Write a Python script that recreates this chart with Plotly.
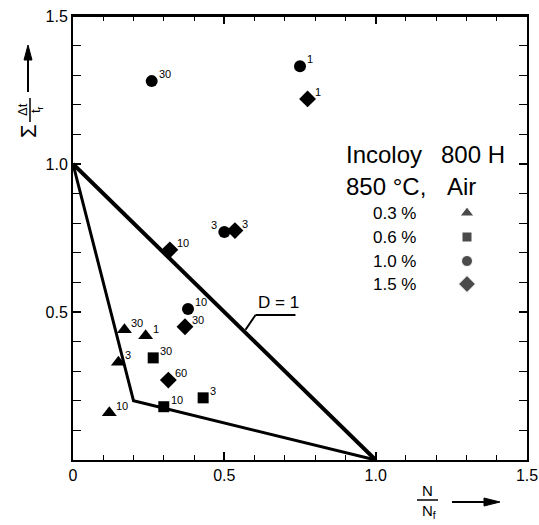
import plotly.graph_objects as go

# ---------------- data ----------------
tri_x = [0.17, 0.24, 0.15, 0.12]
tri_y = [0.44, 0.42, 0.33, 0.16]
tri_lab = ["30", "1", "3", "10"]

sq_x = [0.265, 0.30, 0.43]
sq_y = [0.345, 0.18, 0.21]
sq_lab = ["30", "10", "3"]

ci_x = [0.38, 0.26, 0.75, 0.50]
ci_y = [0.51, 1.28, 1.33, 0.77]
ci_lab = ["10", "30", "1", "3"]

di_x = [0.37, 0.315, 0.32, 0.775, 0.535]
di_y = [0.45, 0.27, 0.71, 1.22, 0.775]
di_lab = ["30", "60", "10", "1", "3"]

# damage lines
d1_x = [0.0, 1.0]
d1_y = [1.0, 0.0]
inner_x = [0.0, 0.2, 1.0]
inner_y = [1.0, 0.2, 0.0]

legend_labels = ["0.3 %", "0.6 %", "1.0 %", "1.5 %"]
legend_symbols = ["triangle-up", "square", "circle", "diamond"]
x_tickvals = [0, 0.5, 1.0, 1.5]
x_ticktext = ["0", "0.5", "1.0", "1.5"]
y_tickvals = [0.5, 1.0, 1.5]
y_ticktext = ["0.5", "1.0", "1.5"]
minor_vals = [i / 10 for i in range(16)]

FONT = "Liberation Sans, Arial, sans-serif"
BLACK = "#000000"

# layout geometry (page pixels; body margin removed in post_script)
W, H = 539, 525
PL, PR, PT, PB = 73, 527, 16, 460          # plot box
L, T, R, B = PL, PT, W - PR, H - PB
PW, PH = PR - PL, PB - PT
XMAX, YMAX = 1.5, 1.5


def px(xp):
    return (xp - PL) / PW


def py(yp):
    return (PB - yp) / PH


fig = go.Figure()

fig.add_trace(go.Scatter(x=d1_x, y=d1_y, mode="lines",
                         line=dict(color=BLACK, width=4), showlegend=False,
                         hoverinfo="skip"))
fig.add_trace(go.Scatter(x=inner_x, y=inner_y, mode="lines",
                         line=dict(color=BLACK, width=3), showlegend=False,
                         hoverinfo="skip"))

ann = []


def series(xs, ys, labs, symbol, size, sides):
    fig.add_trace(go.Scatter(
        x=xs, y=ys, mode="markers",
        marker=dict(symbol=symbol, size=size, color=BLACK, line=dict(width=0)),
        showlegend=False, cliponaxis=False))
    for xv, yv, lab, side in zip(xs, ys, labs, sides):
        ann.append(dict(text=lab, x=xv, y=yv, xref="x", yref="y",
                        xanchor="left" if side == "r" else "right",
                        yanchor="bottom",
                        xshift=5 if side == "r" else -5, yshift=-1,
                        showarrow=False,
                        font=dict(family=FONT, size=11, color=BLACK)))


series(tri_x, tri_y, tri_lab, "triangle-up", 13, "rrrr")
series(sq_x, sq_y, sq_lab, "square", 11, "rrr")
series(ci_x, ci_y, ci_lab, "circle", 12, "rrrl")
series(di_x, di_y, di_lab, "diamond", 13, "rrrrr")

# legend keys (positions are layout constants converted to axis units);
# drawn on the top x axis so that axis is rendered
leg_y_px = [213, 237, 261, 284]
fig.add_trace(go.Scatter(
    x=[px(467) * XMAX] * 4, y=[py(v) * YMAX for v in leg_y_px], mode="markers",
    marker=dict(symbol=legend_symbols, size=[12, 10, 11, 13], color=BLACK),
    xaxis="x2", yaxis="y", showlegend=False, hoverinfo="skip"))

axis_common = dict(showline=True, linecolor=BLACK, linewidth=2,
                   ticks="inside", ticklen=8, tickwidth=1.5, tickcolor=BLACK,
                   showgrid=False, zeroline=False, automargin=False,
                   tickfont=dict(family=FONT, size=16, color=BLACK),
                   minor=dict(tickmode="array", tickvals=minor_vals,
                              ticks="inside", ticklen=5,
                              tickwidth=1.2, tickcolor=BLACK, showgrid=False))

fig.update_layout(
    width=W, height=H,
    margin=dict(l=L, r=R, t=T, b=B, autoexpand=False),
    paper_bgcolor="white", plot_bgcolor="white",
    xaxis=dict(range=[0, XMAX], tickmode="array", tickvals=x_tickvals,
               ticktext=x_ticktext, mirror=False, **axis_common),
    xaxis2=dict(range=[0, XMAX], tickmode="array", tickvals=x_tickvals,
                overlaying="x", side="top", anchor="y", showticklabels=False,
                **axis_common),
    yaxis=dict(range=[0, YMAX], tickmode="array", tickvals=y_tickvals,
               ticktext=y_ticktext, mirror="allticks", **axis_common),
    showlegend=False,
)


def label(text, xp, yp, size, xanchor="center", yanchor="middle", angle=0):
    ann.append(dict(text=text, x=px(xp), y=py(yp), xref="paper", yref="paper",
                    xanchor=xanchor, yanchor=yanchor, textangle=angle,
                    showarrow=False, font=dict(family=FONT, size=size, color=BLACK)))


# legend header
label("Incoloy", 344, 154, 24, "left")
label("800 H", 439, 154, 24, "left")
label("850 °C,", 344, 187, 24, "left")
label("Air", 445, 187, 24, "left")
for lab, yy in zip(legend_labels, leg_y_px):
    label(lab, 418, yy, 17, "right")

# D = 1 label
label("D = 1", 256, 314, 17, "left", "bottom")

# y-axis title: Σ Δt / t_r
label("Σ", 28, 131, 22, angle=-90)
label("Δt", 23, 110, 13, angle=-90)
label("t<sub>r</sub>", 37, 110, 13, angle=-90)

# x-axis title: N / N_f
label("N", 427, 490, 15)
label("N<sub>f</sub>", 429, 511, 15)

fig.update_layout(annotations=ann)


def seg(x0, y0, x1, y1, w, xref="paper", yref="paper"):
    return dict(type="line", xref=xref, yref=yref, x0=x0, y0=y0, x1=x1, y1=y1,
                line=dict(color=BLACK, width=w))


def tri_path(pts):
    return "M " + " L ".join(f"{px(a)},{py(b)}" for a, b in pts) + " Z"


shapes = [
    # fraction bars
    seg(px(417), py(500), px(438), py(500), 1.5),
    seg(px(30), py(98), px(30), py(122), 1.5),
    # y arrow
    seg(px(28), py(92), px(28), py(58), 2),
    dict(type="path", xref="paper", yref="paper",
         path=tri_path([(24, 60), (32, 60), (28, 45)]),
         fillcolor=BLACK, line=dict(color=BLACK, width=1)),
    # x arrow
    seg(px(452), py(502), px(486), py(502), 2),
    dict(type="path", xref="paper", yref="paper",
         path=tri_path([(484, 498), (484, 506), (500, 502)]),
         fillcolor=BLACK, line=dict(color=BLACK, width=1)),
    # D = 1 leader
    seg(0.57, 0.44, 0.603, 0.49, 2, "x", "y"),
    seg(0.603, 0.49, 0.735, 0.49, 2, "x", "y"),
    # top frame line (safety)
    seg(0, 1, 1, 1, 2),
]
fig.update_layout(shapes=shapes)

fig.write_html(
    "out.html",
    config={"displayModeBar": False},
    post_script="document.body.style.margin='0';"
                "document.documentElement.style.overflow='hidden';",
)
